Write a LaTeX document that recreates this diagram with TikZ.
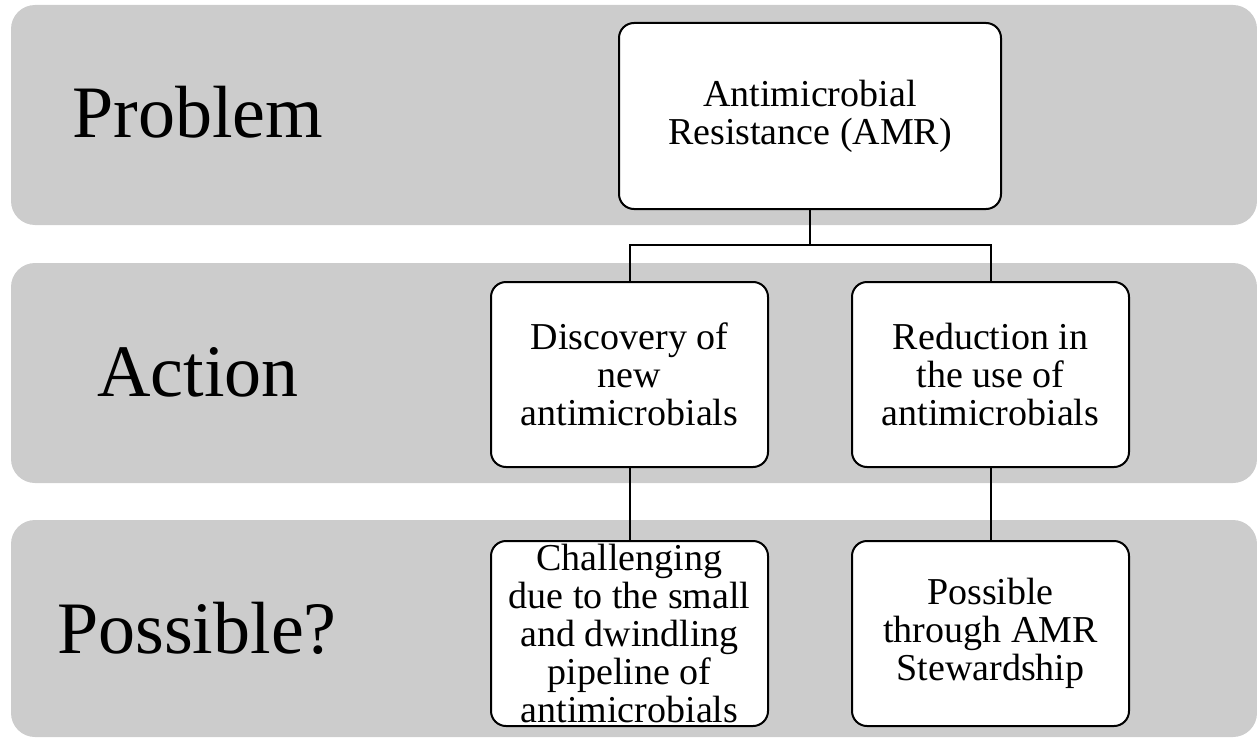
\documentclass[tikz,border=0pt]{standalone}
\usepackage{fontspec}
\setmainfont{Liberation Serif}
\usepackage{tikz}
\usetikzlibrary{positioning}

\begin{document}
\begin{tikzpicture}[
    x=0.5pt, y=-0.5pt,
    band/.style={fill=gray!40, rounded corners=12pt},
    box/.style={rectangle, draw, line width=1pt, fill=white, rounded corners=7.5pt, inner sep=0pt,
        minimum width=138.5pt, minimum height=92.5pt, align=center, font=\fontsize{19}{19}\selectfont},
    rowlabel/.style={anchor=base, font=\fontsize{37}{40}\selectfont},
    line/.style={line width=1pt}
]
\useasboundingbox (0,0) rectangle (1257,738);

% Bands
\fill[band] (11,5) rectangle (1257,225);
\fill[band] (11,263) rectangle (1257,483);
\fill[band] (11,520) rectangle (1257,737);

% Row labels
\node[rowlabel] (problem) at (198,138) {Problem};
\node[rowlabel] (action) at (198,396) {Action};
\node[rowlabel] (possible) at (197,653) {Possible?};

% Nodes
\node[box, minimum width=191pt, minimum height=93pt] (amr) at (810,116) {Antimicrobial\\Resistance (AMR)};
\node[box] (disc) at (629.5,374.5) {Discovery of\\new\\antimicrobials};
\node[box] (red) at (990.5,374.5) {Reduction in\\the use of\\antimicrobials};
\node[box] (chal) at (629.5,633.5) {Challenging\\due to the small\\and dwindling\\pipeline of\\antimicrobials};
\node[box] (poss) at (990.5,633.5) {Possible\\through AMR\\Stewardship};
\coordinate (split) at (810,245);

% Lines
\draw[line] (amr) -- (split);
\draw[line] (disc.north) |- (split) -| (red.north);
\draw[line] (disc) -- (chal);
\draw[line] (red) -- (poss);

\end{tikzpicture}
\end{document}
